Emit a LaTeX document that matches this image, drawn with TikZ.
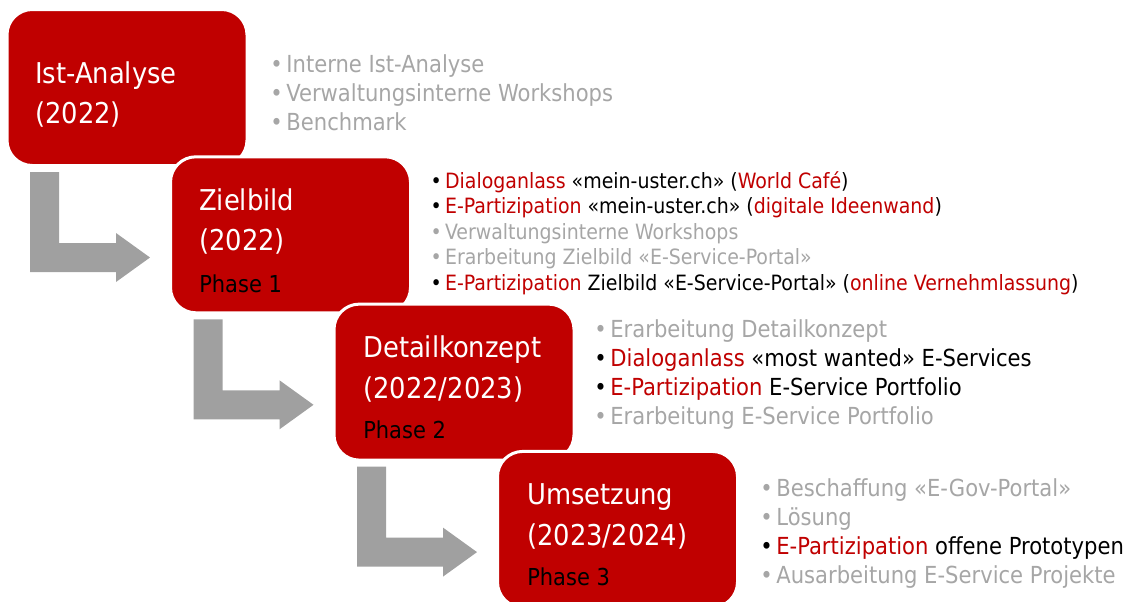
\documentclass[tikz,border=0pt]{standalone}
\usepackage{fontspec}
\setmainfont{DejaVu Sans Condensed}
\usepackage{xcolor}
\usepackage{tikz}
\usetikzlibrary{positioning}

\definecolor{ured}{HTML}{C00000}
\definecolor{ugrey}{HTML}{A6A6A6}
\definecolor{agrey}{HTML}{A0A0A0}

\newcommand{\bul}{\makebox[0.56em][l]{\hspace{-0.12em}•}}
\newcommand{\rt}[1]{\textcolor{ured}{#1}}

\begin{document}
\begin{tikzpicture}[x=0.75pt, y=-0.75pt,
    stage/.style={draw=white, line width=2.25pt, fill=ured, rounded corners=19pt,
        minimum width=180pt, minimum height=117pt, inner sep=0pt},
    stagetitle/.style={anchor=base west, inner sep=0pt, text=white, font=\fontsize{21.5}{25}\selectfont},
    stagephase/.style={anchor=base west, inner sep=0pt, text=black, font=\fontsize{17.5}{20}\selectfont},
    gitem/.style={anchor=base west, inner sep=0pt, text=ugrey, font=\fontsize{17.6}{21}\selectfont},
    bitem/.style={gitem, text=black},
    gsmall/.style={gitem, font=\fontsize{15.8}{19}\selectfont},
    bsmall/.style={gsmall, text=black},
    flowarrow/.style={fill=agrey}]
    \useasboundingbox (0,0) rectangle (1131,601);

    % L-shaped arrows between the stages
    \foreach \k in {0,1,2} {
        \fill[flowarrow, shift={(\k*163.5,\k*147.3)}]
            (30,172) -- (59,172) -- (59,243) -- (116,243) -- (116,233)
            -- (150,257.5) -- (116,282) -- (116,272) -- (30,272) -- cycle;
    }

    % Ist-Analyse
    \node[stage] (ist) at (127,87.5) {};
    \node[stagetitle] (ist-t1) at (35,83) {Ist-Analyse};
    \node[stagetitle] (ist-t2) at (35,123) {(2022)};
    \foreach \y/\s/\txt [count=\n] in {72/gitem/{Interne Ist-Analyse},
            101/gitem/{Verwaltungsinterne Workshops}, 130/gitem/{Benchmark}}
        \node[\s] (ist-l\n) at (273,\y) {\bul\txt};

    % Zielbild
    \node[stage] (ziel) at (290.5,234.8) {};
    \node[stagetitle] (ziel-t1) at (199,210) {Zielbild};
    \node[stagetitle] (ziel-t2) at (199,250) {(2022)};
    \node[stagephase] (ziel-p) at (199,292) {Phase 1};
    \foreach \y/\s/\txt [count=\n] in {
            188/bsmall/{\rt{Dialoganlass} «mein-uster.ch» (\rt{World Café})},
            213/bsmall/{\rt{E-Partizipation} «mein-uster.ch» (\rt{digitale Ideenwand})},
            239/gsmall/{Verwaltungsinterne Workshops},
            264/gsmall/{Erarbeitung Zielbild «E-Service-Portal»},
            290/bsmall/{\rt{E-Partizipation} Zielbild «E-Service-Portal» (\rt{online Vernehmlassung})}}
        \node[\s] (ziel-l\n) at (433,\y) {\bul\txt};

    % Detailkonzept
    \node[stage] (detail) at (454,382.1) {};
    \node[stagetitle] (detail-t1) at (363,357) {Detailkonzept};
    \node[stagetitle] (detail-t2) at (363,398) {(2022/2023)};
    \node[stagephase] (detail-p) at (363,438) {Phase 2};
    \foreach \y/\s/\txt [count=\n] in {337/gitem/{Erarbeitung Detailkonzept},
            366/bitem/{\rt{Dialoganlass} «most wanted» E-Services},
            395/bitem/{\rt{E-Partizipation} E-Service Portfolio},
            424/gitem/{Erarbeitung E-Service Portfolio}}
        \node[\s] (detail-l\n) at (597,\y) {\bul\txt};

    % Umsetzung
    \node[stage] (umsetz) at (617.5,529.4) {};
    \node[stagetitle] (umsetz-t1) at (527,504) {Umsetzung};
    \node[stagetitle] (umsetz-t2) at (527,545) {(2023/2024)};
    \node[stagephase] (umsetz-p) at (527,585) {Phase 3};
    \foreach \y/\s/\txt [count=\n] in {496/gitem/{Beschaffung «E-Gov-Portal»},
            525/gitem/{Lösung},
            554/bitem/{\rt{E-Partizipation} offene Prototypen},
            583/gitem/{Ausarbeitung E-Service Projekte}}
        \node[\s] (umsetz-l\n) at (763,\y) {\bul\txt};

\end{tikzpicture}
\end{document}
